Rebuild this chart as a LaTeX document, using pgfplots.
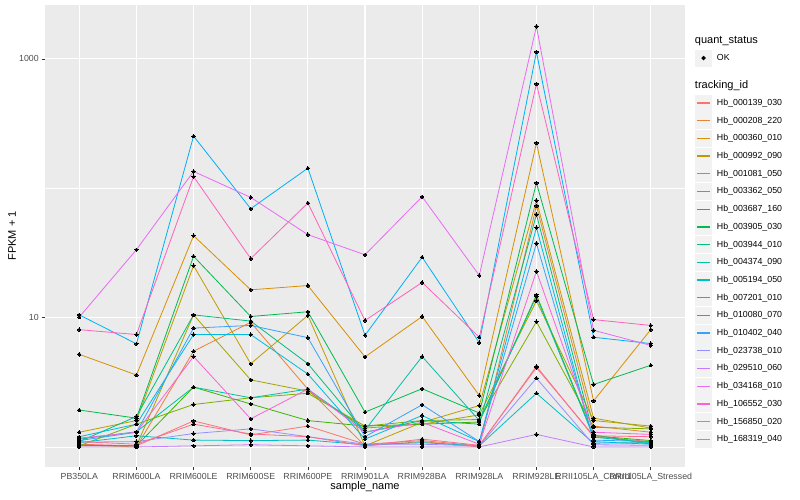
\documentclass[border=0pt]{standalone}
\usepackage{pgfplots}
\pgfplotsset{compat=1.18}
\usepackage{pgfplotstable}
\usepackage{fontspec}
\setmainfont{Liberation Sans}
\setsansfont{Liberation Sans}

\definecolor{panel}{HTML}{EBEBEB}
\definecolor{keybg}{HTML}{F2F2F2}
\definecolor{gray20}{HTML}{333333}
\definecolor{gray30}{HTML}{4D4D4D}
\definecolor{c01}{HTML}{F8766D}
\definecolor{c02}{HTML}{EA8331}
\definecolor{c03}{HTML}{D89000}
\definecolor{c04}{HTML}{C09B00}
\definecolor{c05}{HTML}{A3A500}
\definecolor{c06}{HTML}{7CAE00}
\definecolor{c07}{HTML}{39B600}
\definecolor{c08}{HTML}{00BB4E}
\definecolor{c09}{HTML}{00BF7D}
\definecolor{c10}{HTML}{00C1A3}
\definecolor{c11}{HTML}{00BFC4}
\definecolor{c12}{HTML}{00BAE0}
\definecolor{c13}{HTML}{00B0F6}
\definecolor{c14}{HTML}{35A2FF}
\definecolor{c15}{HTML}{9590FF}
\definecolor{c16}{HTML}{C77CFF}
\definecolor{c17}{HTML}{E76BF3}
\definecolor{c18}{HTML}{FA62DB}
\definecolor{c19}{HTML}{FF62BC}
\definecolor{c20}{HTML}{FF6C91}

% FPKM + 1, one row per sample (x = 0..10), one column per tracking_id
\pgfplotstableread{
x  h139 h208 h360 h992 h1081 h3362 h3687 h3905 h3944 h4374 h5194 h7201 h10080 h10402 h23738 h29510 h34168 h106552 h156850 h168319
0  1.05 1.04 5.2  1.3  1.02  1.02  1.03  1.93  1.1   1.15  1.08  1.2   10.5   1.12   1.09   1.0    10.1   1.17    8.07    1.1
1  1.02 1.0  3.6  1.6  1.02  1.5   1.02  1.67  1.72  1.31  1.22  1.5   6.27   1.3    1.1    1.0    33.5   1.3     7.4     1.05
2  1.59 5.5  43   25.2 10.5  2.13  2.9   29.8  10.5  2.9   1.13  7.4   253    8.3    1.27   1.02   135    5.0     123     1.5
3  1.24 9.2  16.4 4.4  3.3   2.4   2.15  10.2  9.4   2.4   1.12  7.4   69.5   8.7    1.38   1.04   85     1.65    28.6    1.26
4  1.45 2.8  17.7 10.4 2.7   2.6   1.6   11.1  4.4   2.8   1.13  3.66  143    7.0    1.2    1.02   43.8   2.8     76.9    1.2
5  1.05 1.02 4.97 1.02 1.4   1.45  1.45  1.86  1.3   1.35  1.04  1.15  7.3    1.2    1.05   1.0    30.6   1.3     9.5     1.02
6  1.12 1.1  10.2 1.55 1.5   1.6   1.5   2.82  1.6   5.0   1.08  1.75  29.3   2.12   1.05   1.0    86     1.55    18.7    1.15
7  1.02 1.0  2.5  2.09 1.77  1.63  1.56  1.83  1.5   1.6   1.02  1.1   6.4    1.1    1.02   1.0    21.2   1.05    7.05    1.03
8  4.2  73   224  80.5 13.5  9.3   15    110   62.8  14.6  2.6   49.7  1132   37.5   3.4    1.25   1786   22.8    641     4.1
9  1.2  1.45 2.27 1.67 1.6   1.42  1.22  3.04  1.24  1.19  1.07  1.1   7.05   1.13   1.04   1.0    7.98   1.3     9.65    1.22
10 1.1  1.3  8.07 1.4  1.45  1.38  1.12  4.28  1.05  1.08  1.08  1.05  6.3    1.1    1.03   1.0    6.1    1.25    8.7     1.2
}\fpkm

\begin{document}
\begin{tikzpicture}
\begin{axis}[
  at={(45pt,33pt)}, anchor=south west,
  scale only axis, width=640pt, height=462pt,
  set layers, mark layer=axis foreground,
  xmin=-0.6, xmax=10.6,
  ymode=log, ymin=0.70, ymax=2612,
  axis background/.style={fill=panel},
  axis line style={draw=none},
  xtick={0,...,10},
  xticklabels={PB350LA,RRIM600LA,RRIM600LE,RRIM600SE,RRIM600PE,RRIM901LA,RRIM928BA,RRIM928LA,RRIM928LE,RRII105LA\_Control,RRII105LA\_Stressed},
  ytick={10,1000}, yticklabels={10,1000},
  minor ytick={1,100},
  grid=both,
  major grid style={white, line width=1.1pt},
  minor grid style={white, line width=0.55pt},
  tick style={gray20, line width=0.5pt},
  tick align=outside, major tick length=2.75pt, minor tick length=0pt,
  xtick pos=left, ytick pos=left,
  ticklabel style={font=\fontsize{8.8}{10}\selectfont, text=gray30},
  xlabel={sample\_name}, ylabel={FPKM + 1},
  label style={font=\fontsize{11}{13}\selectfont},
  xlabel style={at={(axis description cs:0.5,-0.043)}, anchor=center},
  ylabel style={at={(axis description cs:-0.0516,0.5)}, anchor=center},
  every axis plot/.append style={line width=0.8pt, mark=*, mark size=1.7pt,
    mark options={draw=black, fill=black, line width=0pt}},
  legend cell align=left,
  legend image code/.code={
    \fill[keybg] (0pt,-8pt) rectangle (16pt,8pt);
    \draw[#1, mark=none, line width=1.3pt] (1.5pt,0pt) -- (14.5pt,0pt);},
  legend style={at={(axis description cs:1.0156,0.943)}, anchor=north west,
    draw=none, fill=none, inner sep=0pt, row sep=0pt,
    font=\fontsize{8.8}{10}\selectfont,
    nodes={inner ysep=0pt, inner xsep=5pt, minimum height=17.7pt}},
]
\addlegendimage{empty legend}
\addlegendentry[font=\fontsize{11}{13}\selectfont]{\hspace*{-22pt}quant\_status}
\addlegendimage{legend image code/.code={
    \fill[keybg] (0pt,-8pt) rectangle (16pt,8pt);
    \fill[black] (8pt,0pt) circle (1.7pt);}}
\addlegendentry{OK}
\addlegendimage{empty legend}
\addlegendentry[minimum height=9.5pt]{\strut}
\addlegendimage{empty legend}
\addlegendentry[font=\fontsize{11}{13}\selectfont]{\hspace*{-22pt}tracking\_id}

\addplot[c01] table[x=x, y=h139] {\fpkm};     \addlegendentry{Hb\_000139\_030}
\addplot[c02] table[x=x, y=h208] {\fpkm};     \addlegendentry{Hb\_000208\_220}
\addplot[c03] table[x=x, y=h360] {\fpkm};     \addlegendentry{Hb\_000360\_010}
\addplot[c04] table[x=x, y=h992] {\fpkm};     \addlegendentry{Hb\_000992\_090}
\addplot[c05] table[x=x, y=h1081] {\fpkm};    \addlegendentry{Hb\_001081\_050}
\addplot[c06] table[x=x, y=h3362] {\fpkm};    \addlegendentry{Hb\_003362\_050}
\addplot[c07] table[x=x, y=h3687] {\fpkm};    \addlegendentry{Hb\_003687\_160}
\addplot[c08] table[x=x, y=h3905] {\fpkm};    \addlegendentry{Hb\_003905\_030}
\addplot[c09] table[x=x, y=h3944] {\fpkm};    \addlegendentry{Hb\_003944\_010}
\addplot[c10] table[x=x, y=h4374] {\fpkm};    \addlegendentry{Hb\_004374\_090}
\addplot[c11] table[x=x, y=h5194] {\fpkm};    \addlegendentry{Hb\_005194\_050}
\addplot[c12] table[x=x, y=h7201] {\fpkm};    \addlegendentry{Hb\_007201\_010}
\addplot[c13] table[x=x, y=h10080] {\fpkm};   \addlegendentry{Hb\_010080\_070}
\addplot[c14] table[x=x, y=h10402] {\fpkm};   \addlegendentry{Hb\_010402\_040}
\addplot[c15] table[x=x, y=h23738] {\fpkm};   \addlegendentry{Hb\_023738\_010}
\addplot[c16] table[x=x, y=h29510] {\fpkm};   \addlegendentry{Hb\_029510\_060}
\addplot[c17] table[x=x, y=h34168] {\fpkm};   \addlegendentry{Hb\_034168\_010}
\addplot[c18] table[x=x, y=h106552] {\fpkm};  \addlegendentry{Hb\_106552\_030}
\addplot[c19] table[x=x, y=h156850] {\fpkm};  \addlegendentry{Hb\_156850\_020}
\addplot[c20] table[x=x, y=h168319] {\fpkm};  \addlegendentry{Hb\_168319\_040}
\end{axis}
\pgfresetboundingbox
\path[use as bounding box] (0,0) rectangle (800pt,500pt);
\end{tikzpicture}
\end{document}
